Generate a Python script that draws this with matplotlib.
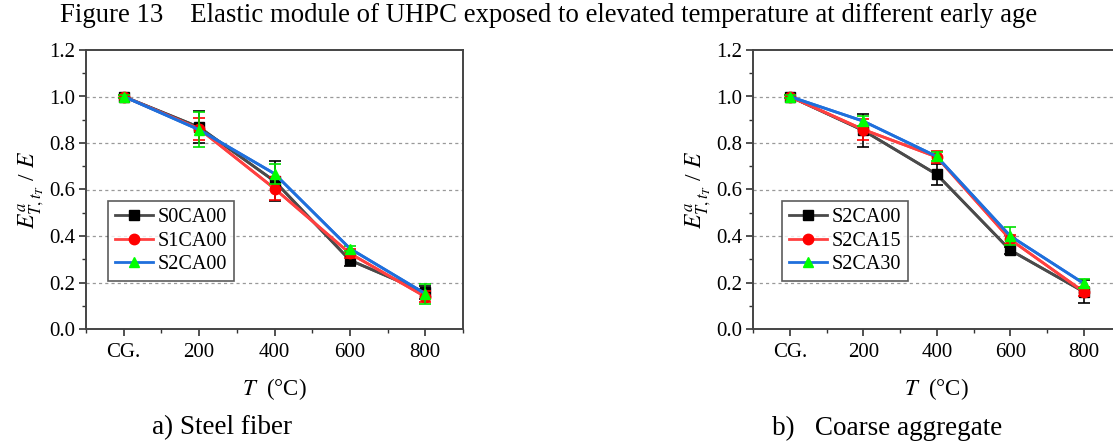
import matplotlib
matplotlib.use("Agg")
import matplotlib.pyplot as plt
from matplotlib.ticker import MultipleLocator

plt.rcParams['font.family'] = ['Liberation Serif', 'DejaVu Serif']
plt.rcParams['mathtext.fontset'] = 'stix'

categories = ['CG.', '200', '400', '600', '800']

# Panel a) Steel fiber
a_names = ['S0CA00', 'S1CA00', 'S2CA00']
a_S0CA00 = [1.0, 0.868, 0.636, 0.296, 0.157]
a_S0CA00_err = [0.005, 0.068, 0.087, 0.026, 0.03]
a_S1CA00 = [1.0, 0.861, 0.604, 0.325, 0.139]
a_S1CA00_err = [0.005, 0.047, 0.048, 0.02, 0.025]
a_S2CA00 = [1.0, 0.857, 0.668, 0.346, 0.152]
a_S2CA00_err = [0.005, 0.075, 0.043, 0.012, 0.043]

# Panel b) Coarse aggregate
b_names = ['S2CA00', 'S2CA15', 'S2CA30']
b_S2CA00 = [1.0, 0.854, 0.665, 0.339, 0.16]
b_S2CA00_err = [0.005, 0.072, 0.045, 0.015, 0.05]
b_S2CA15 = [1.0, 0.858, 0.74, 0.385, 0.16]
b_S2CA15_err = [0.005, 0.045, 0.027, 0.02, 0.02]
b_S2CA30 = [1.0, 0.894, 0.742, 0.40, 0.196]
b_S2CA30_err = [0.005, 0.02, 0.02, 0.04, 0.02]

line_colors = ['#4a4a4a', '#ff4040', '#1f6fdc']
marker_colors = ['#000000', '#ff0000', '#00ff00']
err_colors = ['#000000', '#ff0000', '#00e000']
markers = ['s', 'o', '^']

fig = plt.figure(figsize=(11.13, 4.43), dpi=100)

fig.text(0.4925, 0.966, 'Figure 13    Elastic module of UHPC exposed to elevated temperature at different early age',
         ha='center', va='center', fontsize=19.3)

ax_h = 279 / 443
axa = fig.add_axes([86 / 1113, 1 - 329 / 443, 377 / 1113, ax_h])
axb = fig.add_axes([753 / 1113, 1 - 329 / 443, 367.5 / 1113, ax_h])


def draw(ax, names, vals, errs, legend_pos):
    x = list(range(len(categories)))
    handles = []
    for i, (n, v, e) in enumerate(zip(names, vals, errs)):
        ax.plot(x, v, color=line_colors[i], lw=2.0, zorder=3 + i)
        ax.errorbar(x, v, yerr=e, fmt='none', ecolor=err_colors[i], elinewidth=1.2,
                    capsize=4, capthick=1.2, zorder=3.5 + i)
        h, = ax.plot(x, v, linestyle='-', color=line_colors[i], lw=2.0,
                     marker=markers[i], markersize=7.5, markerfacecolor=marker_colors[i],
                     markeredgecolor=marker_colors[i], zorder=3.6 + i, label=n)
        handles.append(h)
    ax.set_xlim(-0.5, 4.5)
    ax.set_ylim(0, 1.2)
    ax.set_xticks(x)
    ax.set_xticklabels(categories)
    ax.xaxis.set_minor_locator(MultipleLocator(0.5))
    ax.yaxis.set_major_locator(MultipleLocator(0.2))
    ax.yaxis.set_minor_locator(MultipleLocator(0.1))
    ax.yaxis.set_major_formatter(matplotlib.ticker.FormatStrFormatter('%.1f'))
    ax.tick_params(axis='both', which='major', direction='out', length=5, width=1.2,
                   labelsize=15, color='#333333', pad=3)
    ax.tick_params(axis='x', which='major', pad=5)
    ax.tick_params(axis='both', which='minor', direction='out', length=3, width=1.0, color='#333333')
    for s in ax.spines.values():
        s.set_color('#444444')
        s.set_linewidth(1.4)
    for yv in [0.2, 0.4, 0.6, 0.8, 1.0]:
        ax.axhline(yv, color='#999999', lw=0.9, ls=(0, (2.5, 2.5)), zorder=1)
    ax.set_xlabel(r'$T$  (°C)', fontsize=16.5, labelpad=10)
    ax.set_ylabel(r'$E^{a}_{T,t_T}$ / $E$', fontsize=17, labelpad=2)
    leg = ax.legend(handles=handles, loc='upper left', bbox_to_anchor=legend_pos,
                    fontsize=14.5, frameon=True, fancybox=False, edgecolor='#333333',
                    handlelength=1.9, handletextpad=0.2, borderpad=0.35, labelspacing=0.22,
                    borderaxespad=0.0)
    leg.get_frame().set_linewidth(1.2)


draw(axa, a_names, [a_S0CA00, a_S1CA00, a_S2CA00], [a_S0CA00_err, a_S1CA00_err, a_S2CA00_err],
     ((108 - 86) / 377, (329 - 201) / 279))
draw(axb, b_names, [b_S2CA00, b_S2CA15, b_S2CA30], [b_S2CA00_err, b_S2CA15_err, b_S2CA30_err],
     ((782 - 753) / 367.5, (329 - 201) / 279))

fig.text(222 / 1113, 1 - 428 / 443, 'a) Steel fiber', ha='center', va='center', fontsize=19.5)
fig.text(887 / 1113, 1 - 428 / 443, 'b)   Coarse aggregate', ha='center', va='center', fontsize=19.5)

fig.savefig('out.png', dpi=100)
